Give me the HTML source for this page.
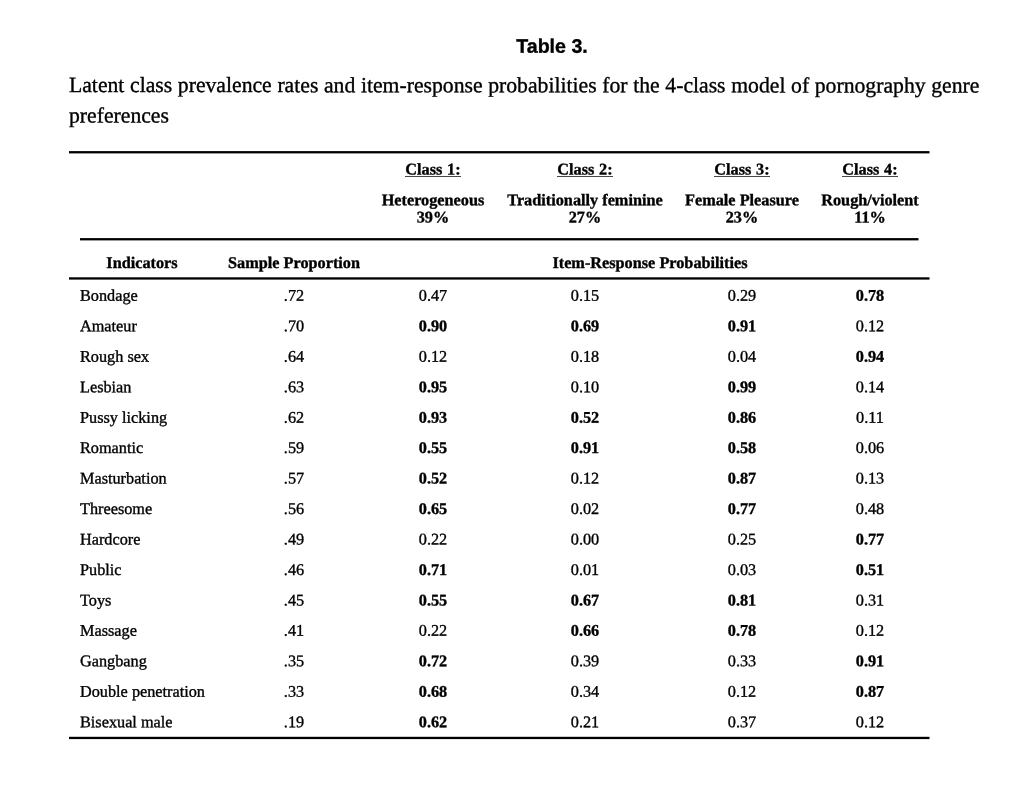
<!DOCTYPE html>
<html lang="en">
<head>
<meta charset="utf-8">
<title>Table 3.</title>
<style>
html,body{margin:0;padding:0;background:#fff;}
body{width:1024px;height:803px;position:relative;overflow:hidden;color:#000;
  font-family:"Liberation Serif","Times New Roman",Times,serif;font-size:16.25px;}
.t{position:absolute;white-space:nowrap;line-height:20px;margin:0;padding:0;font-weight:normal;-webkit-text-stroke:0.35px #000;}
.b{font-weight:bold;}
.u{position:relative;display:inline-block;word-spacing:0.6px;}
.u::after{content:"";position:absolute;left:0;right:0;top:16px;height:1px;background:rgba(0,0,0,.72);transform-origin:0 0;transform:translate(0,0.5px) scaleY(0.9);}
.rule{position:absolute;height:1px;background:#000;transform-origin:0 0;}
.page{position:absolute;left:0;top:0;width:1024px;height:803px;}
h1.t{font-family:"Liberation Sans",Arial,Helvetica,sans-serif;font-weight:bold;}
p.t{white-space:normal;}
</style>
</head>
<body>
<div class="page">

<h1 class="t" style="top:35px;transform:translateY(0.75px) rotate(0.03deg);left:402.2px;width:300px;text-align:center;font-size:19.6px">Table 3.</h1>
<p class="cap" style="margin:0;font-size:21.7px;"><span class="t" style="top:70px;transform:translateY(0.25px) rotate(0.03deg);left:69px;line-height:30.2px;word-spacing:0.22px;">Latent class prevalence rates and item-response probabilities for the 4-class model of pornography genre</span> <span class="t" style="top:100px;transform:translateY(0.5px) rotate(0.03deg);left:69px;line-height:30.2px;">preferences</span></p>
<div class="table">
<div class="rule" style="top:151px;left:69px;width:860px;transform:translate(0px,0.1px) scale(1.00058,2.3)"></div>
<div class="head1">
<div class="t b" style="top:159px;left:323.35px;width:220px;text-align:center;transform:translateY(0.5px) rotate(0.03deg);"><span class="u">Class 1:</span></div>
<div class="t b" style="top:190px;left:323.35px;width:220px;text-align:center;transform:translateY(0.25px) rotate(0.03deg);">Heterogeneous</div>
<div class="t b" style="top:207px;left:323.35px;width:220px;text-align:center;transform:translateY(0.5px) rotate(0.03deg);">39%</div>
<div class="t b" style="top:159px;left:474.7px;width:220px;text-align:center;transform:translateY(0.5px) rotate(0.03deg);"><span class="u">Class 2:</span></div>
<div class="t b" style="top:190px;left:474.7px;width:220px;text-align:center;transform:translateY(0.25px) rotate(0.03deg);">Traditionally feminine</div>
<div class="t b" style="top:207px;left:474.7px;width:220px;text-align:center;transform:translateY(0.5px) rotate(0.03deg);">27%</div>
<div class="t b" style="top:159px;left:631.7px;width:220px;text-align:center;transform:translateY(0.5px) rotate(0.03deg);"><span class="u">Class 3:</span></div>
<div class="t b" style="top:190px;left:631.7px;width:220px;text-align:center;transform:translateY(0.25px) rotate(0.03deg);">Female Pleasure</div>
<div class="t b" style="top:207px;left:631.7px;width:220px;text-align:center;transform:translateY(0.5px) rotate(0.03deg);">23%</div>
<div class="t b" style="top:159px;left:759.5px;width:220px;text-align:center;transform:translateY(0.5px) rotate(0.03deg);"><span class="u">Class 4:</span></div>
<div class="t b" style="top:190px;left:759.5px;width:220px;text-align:center;transform:translateY(0.25px) rotate(0.03deg);">Rough/violent</div>
<div class="t b" style="top:207px;left:759.5px;width:220px;text-align:center;transform:translateY(0.5px) rotate(0.03deg);">11%</div>
</div>
<div class="rule" style="top:238px;left:80px;width:838px;transform:translate(0px,0.1px) scale(1.00060,2.3)"></div>
<div class="head2">
<div class="t b" style="top:253px;left:32.2px;width:220px;text-align:center;transform:translateY(0px) rotate(0.03deg);">Indicators</div>
<div class="t b" style="top:253px;left:183.65px;width:220px;text-align:center;transform:translateY(0px) rotate(0.03deg);">Sample Proportion</div>
<div class="t b" style="top:253px;left:499.7px;width:300px;text-align:center;transform:translateY(0px) rotate(0.03deg);">Item-Response Probabilities</div>
</div>
<div class="rule" style="top:277px;left:69px;width:860px;transform:translate(0px,0.3px) scale(1.00058,2.3)"></div>
<div class="body">
<div class="row">
<div class="t" style="top:285px;left:80px;transform:translateY(0.75px) rotate(0.03deg);">Bondage</div>
<div class="t" style="top:285px;left:253.65px;width:80px;text-align:center;transform:translateY(0.75px) rotate(0.03deg);">.72</div>
<div class="t" style="top:285px;left:393.35px;width:80px;text-align:center;transform:translateY(0.75px) rotate(0.03deg);">0.47</div>
<div class="t" style="top:285px;left:544.7px;width:80px;text-align:center;transform:translateY(0.75px) rotate(0.03deg);">0.15</div>
<div class="t" style="top:285px;left:701.7px;width:80px;text-align:center;transform:translateY(0.75px) rotate(0.03deg);">0.29</div>
<div class="t b" style="top:285px;left:829.5px;width:80px;text-align:center;transform:translateY(0.75px) rotate(0.03deg);">0.78</div>
</div>
<div class="row">
<div class="t" style="top:316px;left:80px;transform:translateY(0.25px) rotate(0.03deg);">Amateur</div>
<div class="t" style="top:316px;left:253.65px;width:80px;text-align:center;transform:translateY(0.25px) rotate(0.03deg);">.70</div>
<div class="t b" style="top:316px;left:393.35px;width:80px;text-align:center;transform:translateY(0.25px) rotate(0.03deg);">0.90</div>
<div class="t b" style="top:316px;left:544.7px;width:80px;text-align:center;transform:translateY(0.25px) rotate(0.03deg);">0.69</div>
<div class="t b" style="top:316px;left:701.7px;width:80px;text-align:center;transform:translateY(0.25px) rotate(0.03deg);">0.91</div>
<div class="t" style="top:316px;left:829.5px;width:80px;text-align:center;transform:translateY(0.25px) rotate(0.03deg);">0.12</div>
</div>
<div class="row">
<div class="t" style="top:346px;left:80px;transform:translateY(0.75px) rotate(0.03deg);">Rough sex</div>
<div class="t" style="top:346px;left:253.65px;width:80px;text-align:center;transform:translateY(0.75px) rotate(0.03deg);">.64</div>
<div class="t" style="top:346px;left:393.35px;width:80px;text-align:center;transform:translateY(0.75px) rotate(0.03deg);">0.12</div>
<div class="t" style="top:346px;left:544.7px;width:80px;text-align:center;transform:translateY(0.75px) rotate(0.03deg);">0.18</div>
<div class="t" style="top:346px;left:701.7px;width:80px;text-align:center;transform:translateY(0.75px) rotate(0.03deg);">0.04</div>
<div class="t b" style="top:346px;left:829.5px;width:80px;text-align:center;transform:translateY(0.75px) rotate(0.03deg);">0.94</div>
</div>
<div class="row">
<div class="t" style="top:377px;left:80px;transform:translateY(0.25px) rotate(0.03deg);">Lesbian</div>
<div class="t" style="top:377px;left:253.65px;width:80px;text-align:center;transform:translateY(0.25px) rotate(0.03deg);">.63</div>
<div class="t b" style="top:377px;left:393.35px;width:80px;text-align:center;transform:translateY(0.25px) rotate(0.03deg);">0.95</div>
<div class="t" style="top:377px;left:544.7px;width:80px;text-align:center;transform:translateY(0.25px) rotate(0.03deg);">0.10</div>
<div class="t b" style="top:377px;left:701.7px;width:80px;text-align:center;transform:translateY(0.25px) rotate(0.03deg);">0.99</div>
<div class="t" style="top:377px;left:829.5px;width:80px;text-align:center;transform:translateY(0.25px) rotate(0.03deg);">0.14</div>
</div>
<div class="row">
<div class="t" style="top:407px;left:80px;transform:translateY(0.75px) rotate(0.03deg);">Pussy licking</div>
<div class="t" style="top:407px;left:253.65px;width:80px;text-align:center;transform:translateY(0.75px) rotate(0.03deg);">.62</div>
<div class="t b" style="top:407px;left:393.35px;width:80px;text-align:center;transform:translateY(0.75px) rotate(0.03deg);">0.93</div>
<div class="t b" style="top:407px;left:544.7px;width:80px;text-align:center;transform:translateY(0.75px) rotate(0.03deg);">0.52</div>
<div class="t b" style="top:407px;left:701.7px;width:80px;text-align:center;transform:translateY(0.75px) rotate(0.03deg);">0.86</div>
<div class="t" style="top:407px;left:829.5px;width:80px;text-align:center;transform:translateY(0.75px) rotate(0.03deg);">0.11</div>
</div>
<div class="row">
<div class="t" style="top:438px;left:80px;transform:translateY(0px) rotate(0.03deg);">Romantic</div>
<div class="t" style="top:438px;left:253.65px;width:80px;text-align:center;transform:translateY(0px) rotate(0.03deg);">.59</div>
<div class="t b" style="top:438px;left:393.35px;width:80px;text-align:center;transform:translateY(0px) rotate(0.03deg);">0.55</div>
<div class="t b" style="top:438px;left:544.7px;width:80px;text-align:center;transform:translateY(0px) rotate(0.03deg);">0.91</div>
<div class="t b" style="top:438px;left:701.7px;width:80px;text-align:center;transform:translateY(0px) rotate(0.03deg);">0.58</div>
<div class="t" style="top:438px;left:829.5px;width:80px;text-align:center;transform:translateY(0px) rotate(0.03deg);">0.06</div>
</div>
<div class="row">
<div class="t" style="top:468px;left:80px;transform:translateY(0.5px) rotate(0.03deg);">Masturbation</div>
<div class="t" style="top:468px;left:253.65px;width:80px;text-align:center;transform:translateY(0.5px) rotate(0.03deg);">.57</div>
<div class="t b" style="top:468px;left:393.35px;width:80px;text-align:center;transform:translateY(0.5px) rotate(0.03deg);">0.52</div>
<div class="t" style="top:468px;left:544.7px;width:80px;text-align:center;transform:translateY(0.5px) rotate(0.03deg);">0.12</div>
<div class="t b" style="top:468px;left:701.7px;width:80px;text-align:center;transform:translateY(0.5px) rotate(0.03deg);">0.87</div>
<div class="t" style="top:468px;left:829.5px;width:80px;text-align:center;transform:translateY(0.5px) rotate(0.03deg);">0.13</div>
</div>
<div class="row">
<div class="t" style="top:499px;left:80px;transform:translateY(0px) rotate(0.03deg);">Threesome</div>
<div class="t" style="top:499px;left:253.65px;width:80px;text-align:center;transform:translateY(0px) rotate(0.03deg);">.56</div>
<div class="t b" style="top:499px;left:393.35px;width:80px;text-align:center;transform:translateY(0px) rotate(0.03deg);">0.65</div>
<div class="t" style="top:499px;left:544.7px;width:80px;text-align:center;transform:translateY(0px) rotate(0.03deg);">0.02</div>
<div class="t b" style="top:499px;left:701.7px;width:80px;text-align:center;transform:translateY(0px) rotate(0.03deg);">0.77</div>
<div class="t" style="top:499px;left:829.5px;width:80px;text-align:center;transform:translateY(0px) rotate(0.03deg);">0.48</div>
</div>
<div class="row">
<div class="t" style="top:529px;left:80px;transform:translateY(0.5px) rotate(0.03deg);">Hardcore</div>
<div class="t" style="top:529px;left:253.65px;width:80px;text-align:center;transform:translateY(0.5px) rotate(0.03deg);">.49</div>
<div class="t" style="top:529px;left:393.35px;width:80px;text-align:center;transform:translateY(0.5px) rotate(0.03deg);">0.22</div>
<div class="t" style="top:529px;left:544.7px;width:80px;text-align:center;transform:translateY(0.5px) rotate(0.03deg);">0.00</div>
<div class="t" style="top:529px;left:701.7px;width:80px;text-align:center;transform:translateY(0.5px) rotate(0.03deg);">0.25</div>
<div class="t b" style="top:529px;left:829.5px;width:80px;text-align:center;transform:translateY(0.5px) rotate(0.03deg);">0.77</div>
</div>
<div class="row">
<div class="t" style="top:560px;left:80px;transform:translateY(0px) rotate(0.03deg);">Public</div>
<div class="t" style="top:560px;left:253.65px;width:80px;text-align:center;transform:translateY(0px) rotate(0.03deg);">.46</div>
<div class="t b" style="top:560px;left:393.35px;width:80px;text-align:center;transform:translateY(0px) rotate(0.03deg);">0.71</div>
<div class="t" style="top:560px;left:544.7px;width:80px;text-align:center;transform:translateY(0px) rotate(0.03deg);">0.01</div>
<div class="t" style="top:560px;left:701.7px;width:80px;text-align:center;transform:translateY(0px) rotate(0.03deg);">0.03</div>
<div class="t b" style="top:560px;left:829.5px;width:80px;text-align:center;transform:translateY(0px) rotate(0.03deg);">0.51</div>
</div>
<div class="row">
<div class="t" style="top:590px;left:80px;transform:translateY(0.5px) rotate(0.03deg);">Toys</div>
<div class="t" style="top:590px;left:253.65px;width:80px;text-align:center;transform:translateY(0.5px) rotate(0.03deg);">.45</div>
<div class="t b" style="top:590px;left:393.35px;width:80px;text-align:center;transform:translateY(0.5px) rotate(0.03deg);">0.55</div>
<div class="t b" style="top:590px;left:544.7px;width:80px;text-align:center;transform:translateY(0.5px) rotate(0.03deg);">0.67</div>
<div class="t b" style="top:590px;left:701.7px;width:80px;text-align:center;transform:translateY(0.5px) rotate(0.03deg);">0.81</div>
<div class="t" style="top:590px;left:829.5px;width:80px;text-align:center;transform:translateY(0.5px) rotate(0.03deg);">0.31</div>
</div>
<div class="row">
<div class="t" style="top:620px;left:80px;transform:translateY(0.75px) rotate(0.03deg);">Massage</div>
<div class="t" style="top:620px;left:253.65px;width:80px;text-align:center;transform:translateY(0.75px) rotate(0.03deg);">.41</div>
<div class="t" style="top:620px;left:393.35px;width:80px;text-align:center;transform:translateY(0.75px) rotate(0.03deg);">0.22</div>
<div class="t b" style="top:620px;left:544.7px;width:80px;text-align:center;transform:translateY(0.75px) rotate(0.03deg);">0.66</div>
<div class="t b" style="top:620px;left:701.7px;width:80px;text-align:center;transform:translateY(0.75px) rotate(0.03deg);">0.78</div>
<div class="t" style="top:620px;left:829.5px;width:80px;text-align:center;transform:translateY(0.75px) rotate(0.03deg);">0.12</div>
</div>
<div class="row">
<div class="t" style="top:651px;left:80px;transform:translateY(0.25px) rotate(0.03deg);">Gangbang</div>
<div class="t" style="top:651px;left:253.65px;width:80px;text-align:center;transform:translateY(0.25px) rotate(0.03deg);">.35</div>
<div class="t b" style="top:651px;left:393.35px;width:80px;text-align:center;transform:translateY(0.25px) rotate(0.03deg);">0.72</div>
<div class="t" style="top:651px;left:544.7px;width:80px;text-align:center;transform:translateY(0.25px) rotate(0.03deg);">0.39</div>
<div class="t" style="top:651px;left:701.7px;width:80px;text-align:center;transform:translateY(0.25px) rotate(0.03deg);">0.33</div>
<div class="t b" style="top:651px;left:829.5px;width:80px;text-align:center;transform:translateY(0.25px) rotate(0.03deg);">0.91</div>
</div>
<div class="row">
<div class="t" style="top:681px;left:80px;transform:translateY(0.75px) rotate(0.03deg);">Double penetration</div>
<div class="t" style="top:681px;left:253.65px;width:80px;text-align:center;transform:translateY(0.75px) rotate(0.03deg);">.33</div>
<div class="t b" style="top:681px;left:393.35px;width:80px;text-align:center;transform:translateY(0.75px) rotate(0.03deg);">0.68</div>
<div class="t" style="top:681px;left:544.7px;width:80px;text-align:center;transform:translateY(0.75px) rotate(0.03deg);">0.34</div>
<div class="t" style="top:681px;left:701.7px;width:80px;text-align:center;transform:translateY(0.75px) rotate(0.03deg);">0.12</div>
<div class="t b" style="top:681px;left:829.5px;width:80px;text-align:center;transform:translateY(0.75px) rotate(0.03deg);">0.87</div>
</div>
<div class="row">
<div class="t" style="top:712px;left:80px;transform:translateY(0.25px) rotate(0.03deg);">Bisexual male</div>
<div class="t" style="top:712px;left:253.65px;width:80px;text-align:center;transform:translateY(0.25px) rotate(0.03deg);">.19</div>
<div class="t b" style="top:712px;left:393.35px;width:80px;text-align:center;transform:translateY(0.25px) rotate(0.03deg);">0.62</div>
<div class="t" style="top:712px;left:544.7px;width:80px;text-align:center;transform:translateY(0.25px) rotate(0.03deg);">0.21</div>
<div class="t" style="top:712px;left:701.7px;width:80px;text-align:center;transform:translateY(0.25px) rotate(0.03deg);">0.37</div>
<div class="t" style="top:712px;left:829.5px;width:80px;text-align:center;transform:translateY(0.25px) rotate(0.03deg);">0.12</div>
</div>
</div>
<div class="rule" style="top:736px;left:69px;width:860px;transform:translate(0px,0.8px) scale(1.00058,2.3)"></div>
</div>
</div>
</body>
</html>
